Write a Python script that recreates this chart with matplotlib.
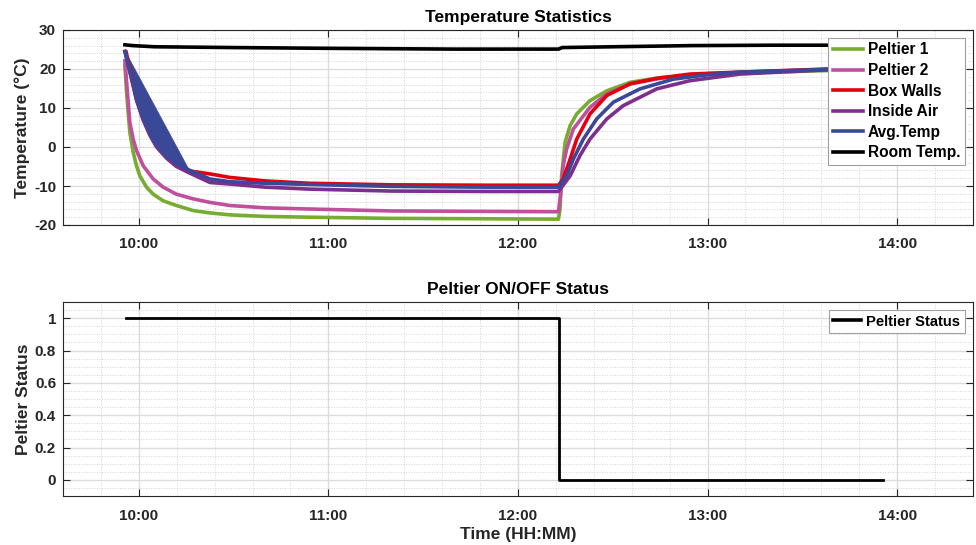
import numpy as np
import pandas as pd
import matplotlib
matplotlib.use("Agg")
from matplotlib import pyplot as plt
import matplotlib.dates as mdates
from matplotlib.ticker import MultipleLocator

plt.rcParams['font.family'] = ['Liberation Sans', 'DejaVu Sans']
plt.rcParams['font.weight'] = 'bold'
plt.rcParams['axes.labelweight'] = 'bold'
plt.rcParams['axes.titleweight'] = 'bold'
plt.rcParams['axes.unicode_minus'] = False

# times are minutes after 10:00
t_p1 = [-4.4, -3.9, -2.85, -1.8, -0.74, 0.32, 2.43, 4.54, 7.7, 11.9, 17.2, 22.5, 28.8, 40, 54, 80,
        110, 132.8, 133.3, 133.8, 134.9, 136.5, 138.6, 142.8, 148.1, 155.5, 165, 180, 200, 218, 236]
v_p1 = [21.0, 14.1, 3.8, -1.3, -4.8, -7.4, -10.3, -12.1, -13.8, -15.0, -16.3, -16.9, -17.4, -17.8, -18.0, -18.3,
        -18.4, -18.5, -16.0, -7.4, 1.2, 5.5, 8.5, 11.9, 14.4, 16.6, 17.8, 18.6, 19.2, 19.6, 19.8]

t_p2 = [-4.4, -2.85, -1.8, -0.74, 1.37, 4.54, 7.7, 11.9, 17.2, 22.5, 28.8, 40, 54, 80, 132.8, 133.5,
        134.3, 135.4, 137.5, 142.8, 148.1, 155.5, 165, 180, 200, 218, 236]
v_p2 = [22.1, 6.3, 2.05, -0.9, -4.8, -8.2, -10.3, -12.1, -13.3, -14.2, -15.0, -15.6, -15.9, -16.4, -16.6, -12.0,
        -4.8, -0.5, 4.6, 10.2, 13.6, 16.2, 17.6, 18.8, 19.4, 19.8, 20.0]

t_box = [-4.0, -0.74, 1.37, 3.5, 5.6, 8.8, 11.9, 15.6, 22.5, 28.8, 40, 54, 80, 110, 132.8,
         134.3, 136.5, 138.6, 142.8, 148.1, 155.5, 163.9, 174.4, 190.3, 218, 236]
v_box = [24.3, 12.3, 7.2, 3.3, 0.3, -2.6, -4.6, -6.1, -6.9, -7.8, -8.7, -9.3, -9.7, -9.8, -9.8,
         -8.2, -3.1, 2.05, 8.5, 13.2, 16.2, 17.6, 18.7, 19.2, 20.0, 20.2]

t_air = [-4.4, -0.74, 1.37, 3.5, 5.6, 8.8, 11.9, 15.6, 22.5, 28.8, 40, 54, 80, 110, 132.8,
         136.5, 139.6, 142.8, 148.1, 153.3, 163.9, 174.4, 190.3, 218, 236]
v_air = [24.5, 12.0, 6.9, 3.0, 0.0, -2.9, -5.0, -6.5, -9.1, -9.5, -10.3, -10.8, -11.3, -11.4, -11.4,
         -7.4, -2.2, 2.05, 7.2, 10.6, 14.9, 17.0, 18.7, 19.8, 20.0]

t_avg = [-4.4, -0.74, 1.37, 3.5, 5.6, 8.8, 11.9, 15.6, 22.5, 28.8, 40, 54, 80, 110, 132.8,
         135.4, 137.5, 140.7, 144.9, 150.2, 158.6, 169.2, 179.7, 190.3, 218, 236]
v_avg = [24.5, 12.6, 7.5, 3.6, 0.6, -2.3, -4.3, -5.8, -8.2, -8.9, -9.3, -9.6, -10.1, -10.3, -10.3,
         -7.4, -3.1, 2.05, 7.2, 11.5, 14.9, 17.4, 18.5, 19.2, 19.9, 20.0]
# upper edge of the dense avg oscillation band at the start
t_band = [-4.4, 15.6]
v_band = [24.7, -5.4]

t_room = [-4.4, -2, 5, 30, 60, 100, 132.8, 134, 150, 175, 200, 236]
v_room = [26.2, 26.0, 25.7, 25.5, 25.3, 25.1, 25.1, 25.5, 25.7, 26.0, 26.1, 26.1]

t_stat = [-4.1, 133.0, 235.6]
v_stat = [1, 0, 0]

base = pd.Timestamp('2024-01-01 10:00')


def tt(m):
    return base + pd.to_timedelta(np.asarray(m, dtype=float), unit='min')


colors = {'p1': '#77AC30', 'p2': '#C0509C', 'box': '#E2000F',
          'air': '#7E2F8E', 'avg': '#3A4898', 'room': '#000000'}
tick_c = '#262626'

fig = plt.figure(figsize=(9.76, 5.45), dpi=100)
ax1 = fig.add_axes([63 / 976, 1 - 225 / 545, 910 / 976, 195 / 545])
ax2 = fig.add_axes([63 / 976, 1 - 496 / 545, 910 / 976, 194 / 545])

lw = 2.6
ax1.plot(tt(t_p1), v_p1, color=colors['p1'], lw=lw, label='Peltier 1')
ax1.plot(tt(t_p2), v_p2, color=colors['p2'], lw=lw, label='Peltier 2')
ax1.plot(tt(t_box), v_box, color=colors['box'], lw=lw, label='Box Walls')
ax1.plot(tt(t_air), v_air, color=colors['air'], lw=lw, label='Inside Air')
ax1.plot(tt(t_avg), v_avg, color=colors['avg'], lw=lw, label='Avg.Temp')
band_t = list(t_band) + [t for t in t_avg if t <= t_band[1]][::-1]
band_v = list(v_band) + [v for t, v in zip(t_avg, v_avg) if t <= t_band[1]][::-1]
ax1.fill(tt(band_t), band_v, color=colors['avg'], lw=0.5)
ax1.plot(tt(t_room), v_room, color=colors['room'], lw=lw, label='Room Temp.')

ax2.plot(tt(t_stat), v_stat, color='black', lw=2, drawstyle='steps-post', label='Peltier Status')

for ax in (ax1, ax2):
    ax.set_xlim(tt([-24, 264]))
    ax.xaxis.set_major_locator(mdates.HourLocator())
    ax.xaxis.set_minor_locator(mdates.MinuteLocator(byminute=[12, 24, 36, 48]))
    ax.xaxis.set_major_formatter(mdates.DateFormatter('%H:%M'))
    ax.grid(which='major', color='#dcdcdc', lw=1.0)
    ax.grid(which='minor', color='#d4d4d4', lw=0.7, ls=':')
    ax.set_axisbelow(True)
    ax.tick_params(which='both', direction='in', top=True, right=True, colors=tick_c,
                   labelsize=11)
    ax.tick_params(which='major', length=5, width=0.8)
    ax.tick_params(which='minor', length=0)
    ax.tick_params(axis='x', pad=9)
    ax.tick_params(axis='y', pad=5)
    for s in ax.spines.values():
        s.set_color(tick_c)
        s.set_linewidth(0.8)

ax1.set_ylim(-20, 30)
ax1.yaxis.set_major_locator(MultipleLocator(10))
ax1.yaxis.set_minor_locator(MultipleLocator(2))
ax1.set_ylabel('Temperature (°C)', fontsize=12.5, color=tick_c, labelpad=3)
ax1.set_title('Temperature Statistics', fontsize=12.5, pad=6)

ax2.set_ylim(-0.1, 1.1)
ax2.yaxis.set_major_locator(MultipleLocator(0.2))
ax2.yaxis.set_minor_locator(MultipleLocator(0.05))
ax2.set_yticks([0, 0.2, 0.4, 0.6, 0.8, 1])
ax2.set_yticklabels(['0', '0.2', '0.4', '0.6', '0.8', '1'])
ax2.set_ylabel('Peltier Status', fontsize=12.5, color=tick_c, labelpad=3)
ax2.set_xlabel('Time (HH:MM)', fontsize=12.5, color=tick_c, labelpad=3)
ax2.set_title('Peltier ON/OFF Status', fontsize=12.5, pad=6)

leg1 = ax1.legend(loc='upper right', fontsize=11.2, fancybox=False, framealpha=1,
                  edgecolor='#a0a0a0', handlelength=1.9, handletextpad=0.35,
                  labelspacing=0.36, borderpad=0.3, borderaxespad=0.5)
leg2 = ax2.legend(loc='upper right', fontsize=10.6, fancybox=False, framealpha=1,
                  edgecolor='#a0a0a0', handlelength=1.9, handletextpad=0.35,
                  borderpad=0.3, borderaxespad=0.55)
for lg in (leg1, leg2):
    lg.get_frame().set_linewidth(0.8)
    for line in lg.get_lines():
        line.set_linewidth(2.6)

fig.savefig('out.png', dpi=100)
